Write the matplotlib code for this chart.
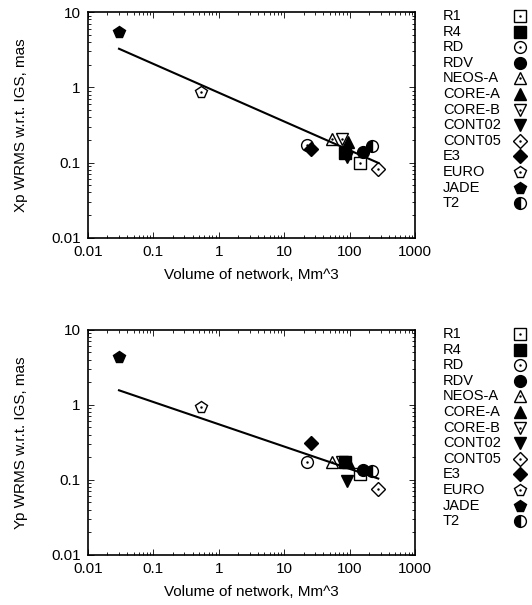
import numpy as np
import matplotlib.pyplot as plt

plt.rcParams['font.family'] = ['Liberation Sans', 'DejaVu Sans']

# networks and their volume (Mm^3)
redes = ['R1', 'R4', 'RD', 'RDV', 'NEOS-A', 'CORE-A', 'CORE-B',
         'CONT02', 'CONT05', 'E3', 'EURO', 'JADE', 'T2']
volume = [143, 85, 22.6, 160, 54.6, 94, 76, 92, 275, 26, 0.53, 0.03, 223]

# WRMS w.r.t. IGS, mas
xp_wrms = [0.100, 0.132, 0.169, 0.136, 0.203, 0.188, 0.205, 0.119, 0.083, 0.152, 0.86, 5.5, 0.166]
yp_wrms = [0.118, 0.175, 0.170, 0.136, 0.175, 0.172, 0.170, 0.095, 0.075, 0.308, 0.92, 4.3, 0.132]

# fitted power law  y = a * x^b
ajuste_xp = (0.85, -0.383)
ajuste_yp = (0.55, -0.297)

# marker style per network: (symbol, filled)
estilos = [('s', False), ('s', True), ('o', False), ('o', True),
           ('^', False), ('^', True), ('v', False), ('v', True),
           ('D', False), ('D', True), ('p', False), ('p', True),
           ('o', 'left')]

fig = plt.figure(figsize=(5.32, 6.05), dpi=100)
ax1 = fig.add_axes([0.165, 0.607, 0.615, 0.373])
ax2 = fig.add_axes([0.165, 0.083, 0.615, 0.372])

# area for the legends, in pixel units
leg = fig.add_axes([0, 0, 1, 1], zorder=-1)
leg.set_xlim(0, 532)
leg.set_ylim(605, 0)
leg.axis('off')


def marca(ax, x, y, m, cheio, ms):
    if cheio == 'left':
        ax.plot(x, y, marker=m, ls='none', ms=ms, color='black',
                fillstyle='left', markerfacecoloralt='white', mew=1)
    elif cheio:
        ax.plot(x, y, marker=m, ls='none', ms=ms, color='black', mew=1)
    else:
        ax.plot(x, y, marker=m, ls='none', ms=ms, mfc='none', mec='black', mew=1)
        ax.plot(x, y, marker='.', ls='none', ms=1.5, color='black')


def desenha(ax, valores, ajuste, ylabel, topo):
    for x, y, (m, cheio) in zip(volume, valores, estilos):
        ms = 7 if m == 'D' else 8.5
        marca(ax, x, y, m, cheio, ms)
    a, b = ajuste
    xs = np.logspace(np.log10(min(volume)), np.log10(max(volume)), 50)
    ax.plot(xs, a * xs ** b, color='black', lw=1.5)

    ax.set_xscale('log')
    ax.set_yscale('log')
    ax.set_xlim(0.01, 1000)
    ax.set_ylim(0.01, 10)
    ax.set_xticks([0.01, 0.1, 1, 10, 100, 1000])
    ax.set_xticklabels(['0.01', '0.1', '1', '10', '100', '1000'])
    ax.set_yticks([0.01, 0.1, 1, 10])
    ax.set_yticklabels(['0.01', '0.1', '1', '10'])
    ax.tick_params(which='both', direction='in', top=True, right=True,
                   labelsize=11, width=0.6)
    ax.tick_params(which='major', length=4, pad=5)
    ax.tick_params(which='minor', length=2)
    for s in ax.spines.values():
        s.set_linewidth(1.2)
    ax.set_xlabel('Volume of network, Mm^3', fontsize=11, labelpad=7)
    ax.set_ylabel(ylabel, fontsize=11, labelpad=17)

    # legend: text left aligned, symbols in a column on the right
    for i, (nome, (m, cheio)) in enumerate(zip(redes, estilos)):
        yy = topo + i * 15.6
        leg.text(443, yy, nome, fontsize=10.5, va='center', ha='left')
        marca(leg, 520, yy, m, cheio, 7 if m == 'D' else 8.5)


desenha(ax1, xp_wrms, ajuste_xp, 'Xp WRMS w.r.t. IGS, mas', 16)
desenha(ax2, yp_wrms, ajuste_yp, 'Yp WRMS w.r.t. IGS, mas', 334)

plt.savefig('out.png', dpi=100)
